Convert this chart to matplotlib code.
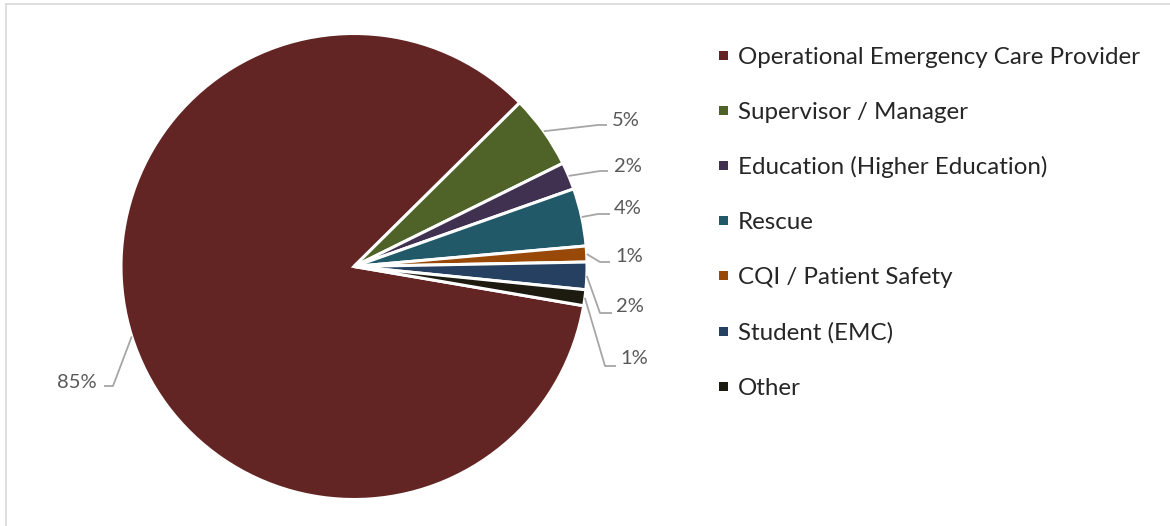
import matplotlib
matplotlib.use("Agg")
import matplotlib.pyplot as plt
import numpy as np

categories = ["Operational Emergency Care Provider", "Supervisor / Manager",
              "Education (Higher Education)", "Rescue", "CQI / Patient Safety",
              "Student (EMC)", "Other"]
values = [84.9, 5.1, 1.9, 4.0, 1.1, 1.9, 1.1]
labels = ["85%", "5%", "2%", "4%", "1%", "2%", "1%"]
colors = ["#632523", "#4F6228", "#403151", "#215968", "#984807", "#254061", "#1D1B10"]

W, H = 1170, 526
fig = plt.figure(figsize=(W / 100, H / 100), dpi=100)
ax = fig.add_axes([0, 0, 1, 1])

cx, cy, R = 354, 266.5, 233
# y axis is flipped (image pixel coords), so data-counterclockwise = visual clockwise
wedges, _ = ax.pie(values, colors=colors, startangle=9.7, counterclock=True,
                   center=(cx, cy), radius=R, frame=True,
                   wedgeprops=dict(edgecolor="white", linewidth=2.2))
ax.set_xlim(0, W)
ax.set_ylim(H, 0)
ax.set_aspect("equal")
ax.axis("off")

# label layout (image pixels): elbow, end of leader, text anchor
layout = [
    ((113, 386), (104, 386), (97, 383), "right"),
    ((598, 125), (607, 125), (612, 121), "left"),
    ((600, 171), (608, 171), (614, 166), "left"),
    ((598, 214), (610, 214), (614, 208), "left"),
    ((600, 262), (610, 262), (615, 256), "left"),
    ((600, 313), (612, 313), (616, 307), "left"),
    ((605, 366), (616, 366), (620, 358), "left"),
]
lab_font = "Lato"
for w, lab, (elb, end, txt, ha) in zip(wedges, labels, layout):
    mid = np.deg2rad((w.theta1 + w.theta2) / 2)
    sx = cx + R * np.cos(mid)
    sy = cy + R * np.sin(mid)
    ax.plot([sx, elb[0], end[0]], [sy, elb[1], end[1]], color="#A6A6A6", lw=1.3,
            solid_capstyle="butt", zorder=5)
    ax.text(txt[0], txt[1], lab, ha=ha, va="center", fontsize=14.5,
            color="#595959", family=lab_font)

# legend
for i, (cat, col) in enumerate(zip(categories, colors)):
    y = 55 + i * 55.2
    ax.add_patch(plt.Rectangle((719, y - 4.5), 9, 9, facecolor=col, edgecolor="none"))
    ax.text(738, y + 2, cat, ha="left", va="center", fontsize=17.4, color="#262626",
            family=lab_font)

# chart area border (top & left)
ax.plot([6, W], [4, 4], color="#D9D9D9", lw=1.2)
ax.plot([6, 6], [4, H], color="#D9D9D9", lw=1.2)

fig.savefig("out.png", dpi=100)
